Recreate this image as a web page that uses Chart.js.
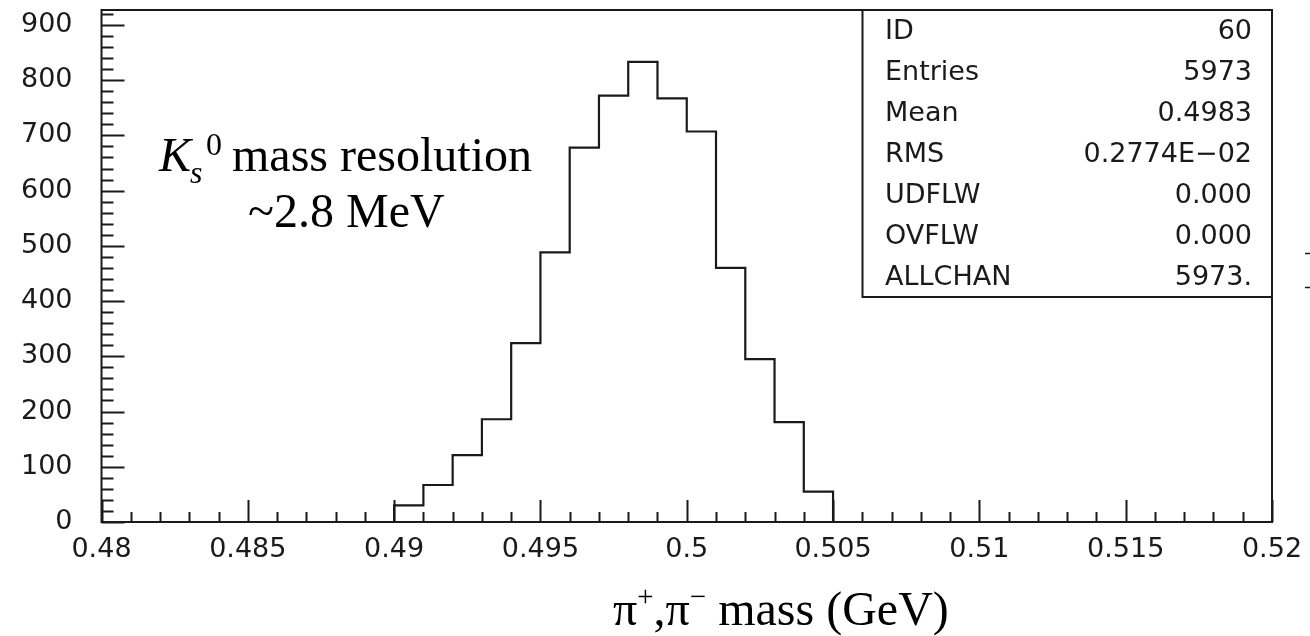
<!DOCTYPE html>
<html>
<head>
<meta charset="utf-8">
<script src="https://cdn.jsdelivr.net/npm/chart.js@4.4.1/dist/chart.umd.min.js"></script>
<style>
  html, body { margin: 0; padding: 0; background: #fff; }
  #wrap { width: 1310px; height: 636px; position: relative; }
</style>
</head>
<body>
<div id="wrap"><canvas id="histo"></canvas></div>
<script>
// bin edges (GeV) and contents
const binEdges = [0.490, 0.491, 0.492, 0.493, 0.494, 0.495, 0.496, 0.497,
                  0.498, 0.499, 0.500, 0.501, 0.502, 0.503, 0.504, 0.505];
const binCounts = [30, 67, 121, 186, 324, 488, 678, 772, 833, 767, 707, 460, 295, 181, 55];

const xTickValues = [0.48, 0.485, 0.49, 0.495, 0.5, 0.505, 0.51, 0.515, 0.52];
const xTickLabels = ['0.48', '0.485', '0.49', '0.495', '0.5', '0.505', '0.51', '0.515', '0.52'];
const yTickValues = [0, 100, 200, 300, 400, 500, 600, 700, 800, 900];

const statNames = ['ID', 'Entries', 'Mean', 'RMS', 'UDFLW', 'OVFLW', 'ALLCHAN'];
const statValues = ['60', '5973', '0.4983', '0.2774E\u221202', '0.000', '0.000', '5973.'];

const ink = '#1a1a1a';
const pawFont = '27px "DejaVu Sans"';
const serif = '"Liberation Serif", "Times New Roman", serif';

// outline of the histogram as a stepped line
const outline = [{ x: binEdges[0], y: 0 }];
binCounts.forEach((c, i) => outline.push({ x: binEdges[i], y: c }));
outline.push({ x: binEdges[binEdges.length - 1], y: 0 });

const decor = {
  id: 'decor',
  afterDraw(chart) {
    const ctx = chart.ctx;
    const area = chart.chartArea;
    const xs = chart.scales.x;
    const ys = chart.scales.y;
    ctx.save();
    ctx.strokeStyle = ink;
    ctx.lineWidth = 2;

    // inward tick marks
    ctx.beginPath();
    for (let i = 0; i <= 40; i++) {
      const px = Math.round(xs.getPixelForValue(0.48 + i * 0.001)) + 0.5;
      const len = i % 5 === 0 ? 22 : 10;
      ctx.moveTo(px, area.bottom);
      ctx.lineTo(px, area.bottom - len);
    }
    for (let v = 0; v <= 920; v += 20) {
      const py = Math.round(ys.getPixelForValue(v)) + 0.5;
      const len = v % 100 === 0 ? 23 : 12;
      ctx.moveTo(area.left, py);
      ctx.lineTo(area.left + len, py);
    }
    ctx.stroke();

    // frame
    ctx.strokeRect(area.left, area.top, area.right - area.left, area.bottom - area.top);

    // statistics box
    const bx = 862.5, by = area.top, bw = area.right - 862.5, bh = 287;
    ctx.fillStyle = '#fff';
    ctx.fillRect(bx, by, bw, bh);
    ctx.strokeRect(bx, by, bw, bh);
    ctx.fillStyle = ink;
    ctx.font = pawFont;
    ctx.textBaseline = 'middle';
    statNames.forEach((name, i) => {
      const ty = 32 + i * 41;
      ctx.textAlign = 'left';
      ctx.fillText(name, 885, ty);
      ctx.textAlign = 'right';
      ctx.fillText(statValues[i], 1252, ty);
    });

    // annotation
    ctx.fillStyle = '#000';
    ctx.textBaseline = 'alphabetic';
    ctx.textAlign = 'left';
    ctx.font = 'italic 48px ' + serif;
    ctx.fillText('K', 159, 171);
    ctx.font = 'italic 32px ' + serif;
    ctx.fillText('s', 190, 183);
    ctx.font = '32px ' + serif;
    ctx.fillText('0', 206, 155);
    ctx.font = '48px ' + serif;
    ctx.fillText('mass resolution', 232, 171);
    ctx.fillText('~2.8 MeV', 248, 227);

    // axis title
    let tx = 613;
    const base = 625;
    const parts = [
      ['\u03c0', 48, 0], ['+', 29, -19], [',', 48, 0], ['\u03c0', 48, 0], ['\u2212', 29, -19],
      [' mass (GeV)', 48, 0]
    ];
    parts.forEach(([t, size, dy]) => {
      ctx.font = size + 'px ' + serif;
      ctx.fillText(t, tx, base + dy);
      tx += ctx.measureText(t).width;
    });

    // clipped fragments at right edge
    ctx.strokeStyle = ink;
    ctx.lineWidth = 1.5;
    ctx.beginPath();
    ctx.moveTo(1305, 253.5); ctx.lineTo(1310, 253.5);
    ctx.moveTo(1305, 287.5); ctx.lineTo(1310, 287.5);
    ctx.stroke();
    ctx.restore();
  }
};

new Chart(document.getElementById('histo'), {
  type: 'line',
  data: {
    datasets: [{
      data: outline,
      stepped: true,
      borderColor: ink,
      borderWidth: 2.2,
      pointRadius: 0,
      fill: false
    }]
  },
  options: {
    responsive: true,
    maintainAspectRatio: false,
    animation: false,
    layout: { padding: { top: 10, right: 38, left: 0, bottom: 0 } },
    plugins: { legend: { display: false }, tooltip: { enabled: false } },
    scales: {
      x: {
        type: 'linear',
        min: 0.48,
        max: 0.52,
        afterBuildTicks: s => { s.ticks = xTickValues.map(v => ({ value: v })); },
        afterFit: s => {
          s.height = 114;
          s.paddingLeft = 0;
          s.paddingRight = 0;
        },
        grid: { display: false, drawTicks: false },
        border: { display: false },
        ticks: {
          autoSkip: false,
          maxRotation: 0,
          padding: 12,
          color: ink,
          font: { family: 'DejaVu Sans', size: 27 },
          callback: (v, i) => xTickLabels[i]
        }
      },
      y: {
        type: 'linear',
        min: 0,
        max: 927,
        afterBuildTicks: s => { s.ticks = yTickValues.map(v => ({ value: v })); },
        afterFit: s => {
          s.width = 101.5;
          s.paddingTop = 0;
          s.paddingBottom = 0;
        },
        grid: { display: false, drawTicks: false },
        border: { display: false },
        ticks: {
          padding: 29,
          color: ink,
          font: { family: 'DejaVu Sans', size: 27 }
        }
      }
    }
  },
  plugins: [decor]
});
</script>
</body>
</html>
